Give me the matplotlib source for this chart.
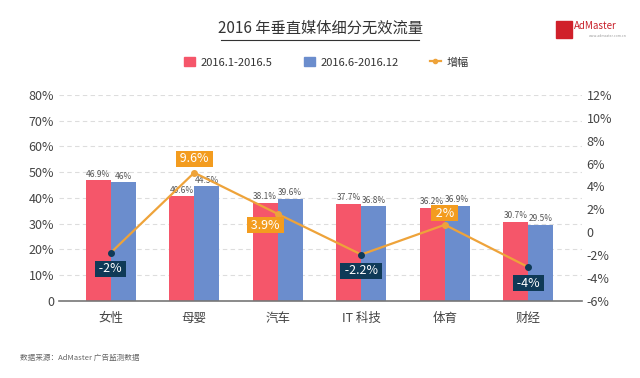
import matplotlib.pyplot as plt
import matplotlib.patches as mpatches
from matplotlib.lines import Line2D
import numpy as np

plt.rcParams['font.family'] = ['Noto Sans CJK SC', 'DejaVu Sans']

categories = ['女性', '母婴', '汽车', 'IT 科技', '体育', '财经']
h1 = [46.9, 40.6, 38.1, 37.7, 36.2, 30.7]
h2 = [46.0, 44.5, 39.6, 36.8, 36.9, 29.5]
h1_labels = ['46.9%', '40.6%', '38.1%', '37.7%', '36.2%', '30.7%']
h2_labels = ['46%', '44.5%', '39.6%', '36.8%', '36.9%', '29.5%']
# line as drawn in the picture (right axis) and the labels printed on it
growth_line = [-1.8, 5.2, 1.6, -1.95, 0.65, -3.05]
growth_labels = ['-2%', '9.6%', '3.9%', '-2.2%', '2%', '-4%']

red = '#f5566a'
blue = '#6b8dcd'
orange = '#eea33a'
navy = '#0f3a57'

fig = plt.figure(figsize=(6.4, 3.78), dpi=100)
ax = fig.add_axes([0.092, 0.204, 0.817, 0.545])
x = np.arange(len(categories))
w = 0.3
ax.bar(x - w / 2, h1, w, color=red, zorder=2)
ax.bar(x + w / 2, h2, w, color=blue, zorder=2)
for i in range(len(x)):
    ax.text(x[i] - w / 2, h1[i] + 0.6, h1_labels[i], ha='center', va='bottom', fontsize=6, color='#555555')
    ax.text(x[i] + w / 2, h2[i] + 0.6, h2_labels[i], ha='center', va='bottom', fontsize=6, color='#555555')

ax.set_xlim(-0.62, 5.64)
ax.set_ylim(0, 80)
ax.set_yticks(range(0, 81, 10))
ax.set_yticklabels(['0'] + ['%d%%' % v for v in range(10, 81, 10)])
ax.set_xticks(x)
ax.set_xticklabels(categories)
for v in range(10, 81, 10):
    ax.axhline(v, color='#dddddd', lw=0.8, ls=(0, (4, 3)), zorder=0)
for s in ['top', 'right', 'left']:
    ax.spines[s].set_visible(False)
ax.spines['bottom'].set_color('#777777')
ax.spines['bottom'].set_linewidth(1.2)
ax.tick_params(axis='both', length=0, labelsize=9, colors='#444444')
ax.tick_params(axis='x', pad=8)

ax2 = ax.twinx()
ax2.set_ylim(-6, 12)
ax2.set_yticks(range(-6, 13, 2))
ax2.set_yticklabels(['%d%%' % v if v != 0 else '0' for v in range(-6, 13, 2)])
for s in ax2.spines.values():
    s.set_visible(False)
ax2.tick_params(axis='y', length=0, labelsize=9, colors='#444444')
ax2.plot(x, growth_line, color=orange, lw=1.6, zorder=3)
for i in range(len(x)):
    g = growth_line[i]
    if growth_labels[i].startswith('-'):
        ax2.plot(x[i], g, 'o', color=navy, ms=4, zorder=4)
        ax2.text(x[i], g - 1.4, ' ' + growth_labels[i] + ' ', ha='center', va='center', fontsize=9,
                 color='white', bbox=dict(boxstyle='square,pad=0.12', fc=navy, ec='none'), zorder=5)
    else:
        ax2.plot(x[i], g, 'o', color=orange, ms=4, zorder=4)
off = {1: (0, 1.2), 2: (-0.15, -1.0), 4: (0, 1.0)}
for i, (dx, dy) in off.items():
    ax2.text(x[i] + dx, growth_line[i] + dy, ' ' + growth_labels[i] + ' ', ha='center', va='center',
             fontsize=9, color='white', bbox=dict(boxstyle='square,pad=0.12', fc='#f39c1f', ec='none'),
             zorder=5)

# title with underline
fig.text(0.5, 0.925, '2016 年垂直媒体细分无效流量', ha='center', va='center', fontsize=11, color='#333333')
fig.add_artist(Line2D([0.345, 0.655], [0.893, 0.893], color='#333333', lw=0.8))

# legend
handles = [mpatches.Patch(color=red), mpatches.Patch(color=blue),
           Line2D([0], [0], color=orange, lw=1.6, marker='o', ms=3)]
fig.legend(handles, ['2016.1-2016.5', '2016.6-2016.12', '增幅'], loc='center', bbox_to_anchor=(0.51, 0.835),
           ncol=3, frameon=False, fontsize=8, handlelength=1.0, handleheight=0.9, columnspacing=2.8,
           handletextpad=0.5, labelcolor='#333333')

# logo
fig.add_artist(mpatches.Rectangle((0.868, 0.9), 0.026, 0.044, color='#d0202a', transform=fig.transFigure))
fig.text(0.897, 0.93, 'AdMaster', fontsize=7, color='#c8202a', va='center', ha='left')
fig.text(0.92, 0.905, 'www.admaster.com.cn', fontsize=2.5, color='#999999', va='center', ha='left')

fig.text(0.032, 0.052, '数据来源：AdMaster 广告监测数据', fontsize=5.5, color='#666666', va='center')

fig.savefig('out.png', dpi=100)
